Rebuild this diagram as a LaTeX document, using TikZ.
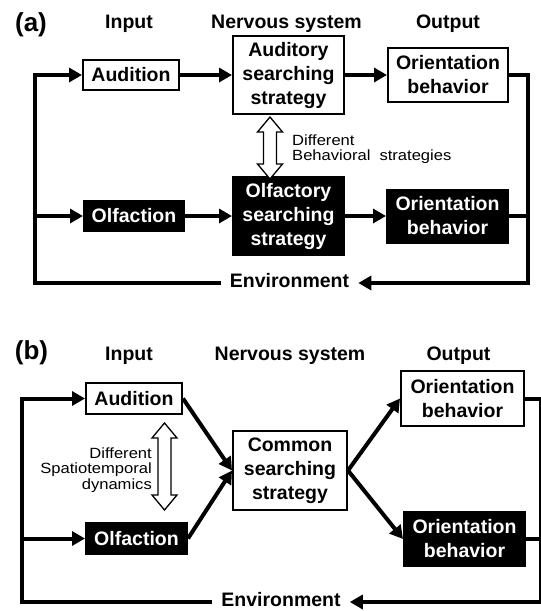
\documentclass[tikz,border=0pt]{standalone}
\usepackage{fontspec}
\setmainfont{Liberation Sans}
\newfontfamily\narrowfont[FakeStretch=1.12]{Liberation Sans}
\usetikzlibrary{arrows.meta,calc}

\tikzset{
  wbox/.style={draw, line width=2pt, fill=white, inner sep=0pt, align=center,
    font=\fontsize{19.5}{24}\selectfont\bfseries},
  bbox/.style={wbox, fill=black, text=white},
  conn/.style={line width=4pt, -{Triangle[length=13pt,width=14pt]}},
  wire/.style={line width=4pt},
  head/.style={anchor=base, inner sep=0pt, font=\fontsize{19.5}{24}\selectfont\bfseries},
  envtext/.style={inner xsep=9pt, inner ysep=0pt, font=\fontsize{19.5}{24}\selectfont\bfseries},
  note/.style={inner sep=0pt, font=\narrowfont\fontsize{14.8}{15.5}\selectfont}
}

% hollow double arrow: x, top, bottom
\newcommand{\dblarrow}[3]{%
  \draw[line width=1.3pt, fill=white, line join=miter]
    (#1,#2) -- (#1+12.5,#2+15) -- (#1+6.5,#2+15) -- (#1+6.5,#3-15)
    -- (#1+12.5,#3-15) -- (#1,#3) -- (#1-12.5,#3-15) -- (#1-6.5,#3-15)
    -- (#1-6.5,#2+15) -- (#1-12.5,#2+15) -- cycle;}

\begin{document}
\begin{tikzpicture}[x=1pt, y=-1pt, line join=miter]
\useasboundingbox (0,0) rectangle (541,611);
\clip (0,0) rectangle (541,611);

% (a)
\node[head, font=\fontsize{26}{30}\selectfont\bfseries] (laba) at (31,31) {(a)};
\node[head] (ina) at (129,28) {Input};
\node[head] (nsa) at (286.5,28) {Nervous system};
\node[head] (outha) at (448,28) {Output};

\node[wbox, minimum width=96, minimum height=30] (aud) at (131,75) {Audition};
\node[wbox, minimum width=111, minimum height=78] (audss) at (288.5,75) {Auditory\\searching\\strategy};
\node[wbox, minimum width=120, minimum height=54] (outa1) at (448,75) {Orientation\\behavior};
\node[bbox, minimum width=100, minimum height=30] (olf) at (134,216) {Olfaction};
\node[bbox, minimum width=111, minimum height=78] (olfss) at (288.5,216) {Olfactory\\searching\\strategy};
\node[bbox, minimum width=121, minimum height=53] (outa2) at (447.5,216) {Orientation\\behavior};
\node[envtext] (env1) at (289.5,281) {Environment};

\draw[conn] (aud) -- (audss);
\draw[conn] (audss) -- (outa1);
\draw[conn] (olf) -- (olfss);
\draw[conn] (olfss) -- (outa2);

\coordinate (ra) at (528,283);
\coordinate (la) at (35,75);
\draw[conn] (outa1.east) -| (ra) -- (ra -| env1.east);
\draw[wire] (outa2.east) -- (outa2.east -| ra);
\draw[conn] (env1.west |- ra) -| (la) -- (aud.west);
\draw[conn] (la |- olf.west) -- (olf.west);

\dblarrow{270}{117}{179}
\node[note, anchor=north west, align=left] (difa) at (292,134.5) {Different\\Behavioral\hspace{0.3em} strategies};

% (b)
\node[head, font=\fontsize{26}{30}\selectfont\bfseries] (labb) at (31.5,359) {(b)};
\node[head] (inb) at (129,360) {Input};
\node[head] (nsb) at (290,360) {Nervous system};
\node[head] (outhb) at (458.5,360) {Output};

\node[wbox, minimum width=96, minimum height=31] (audb) at (134,398.5) {Audition};
\node[bbox, minimum width=101, minimum height=31] (olfb) at (136.5,538.5) {Olfaction};
\node[wbox, minimum width=114, minimum height=79] (comm) at (290,470.5) {Common\\searching\\strategy};
\node[wbox, minimum width=123, minimum height=55] (outb1) at (462.5,398.5) {Orientation\\behavior};
\node[bbox, minimum width=121, minimum height=54] (outb2) at (464.5,539) {Orientation\\behavior};
\node[envtext] (env2) at (281,599.5) {Environment};

\draw[conn] (audb.east) -- (comm.west);
\draw[conn] (olfb.east) -- (comm.west);
\draw[conn] (comm.east) -- (outb1.west);
\draw[conn] (comm.east) -- (outb2.west);

\coordinate (rb) at (541,602);
\coordinate (lb) at (22,398.5);
\draw[conn] (outb1.east) -| (rb) -- (rb -| env2.east);
\draw[wire] (outb2.east) -- (outb2.east -| rb);
\draw[conn] (env2.west |- rb) -| (lb) -- (audb.west);
\draw[conn] (lb |- olfb.west) -- (olfb.west);

\dblarrow{164.5}{423}{510}
\node[note, anchor=north east, align=right] (difb) at (152,447.5) {Different\\Spatiotemporal\\dynamics};
\end{tikzpicture}
\end{document}
